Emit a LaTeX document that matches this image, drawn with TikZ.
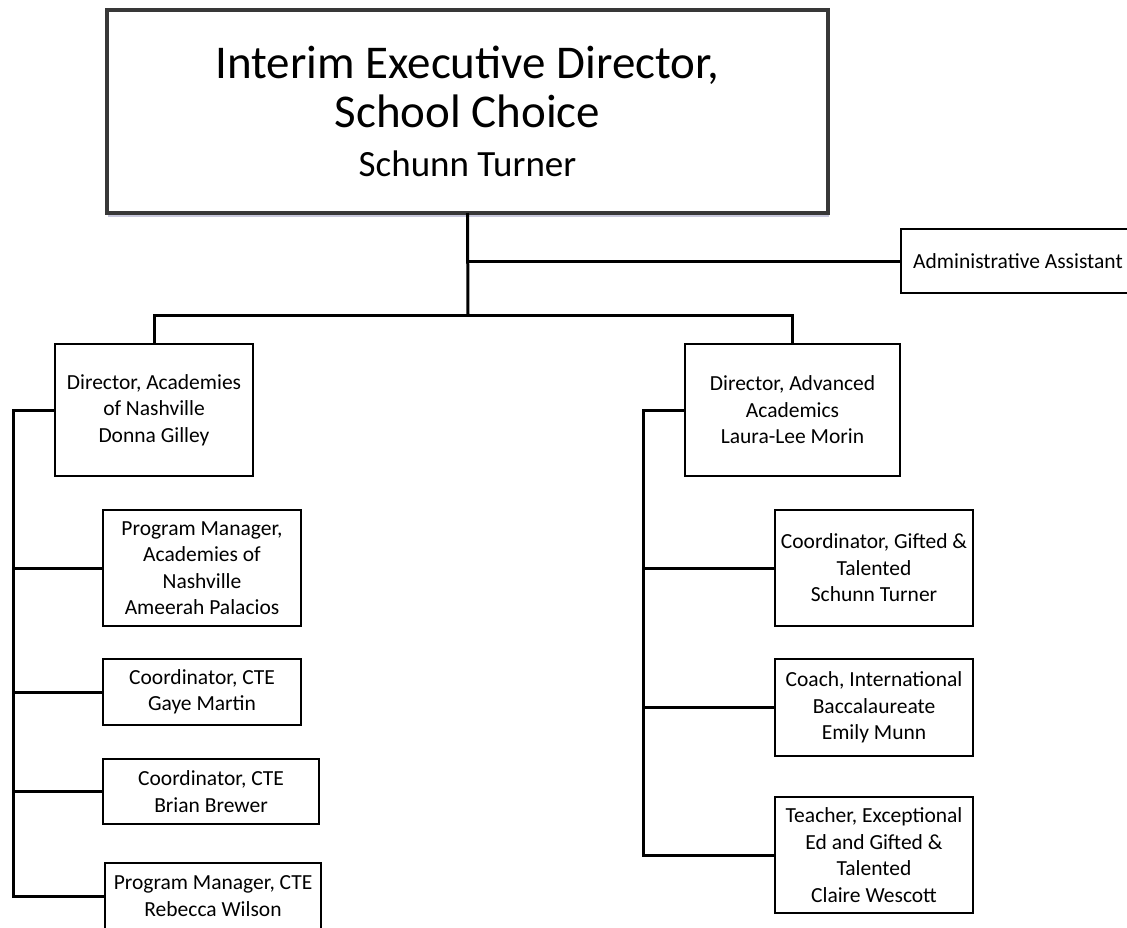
\documentclass[tikz,border=0pt]{standalone}
\usepackage{fontspec}
\setmainfont{Carlito}
\usetikzlibrary{shadows}

\tikzset{
  orgbox/.style={draw, rectangle, line width=2.4pt, align=center, inner sep=0pt,
    font=\fontsize{21.5}{26.5}\selectfont},
  headbox/.style={draw=black!78, rectangle, line width=4pt, align=center, inner sep=0pt,
    fill=white, drop shadow={shadow xshift=1pt, shadow yshift=-4pt, opacity=0.35, fill=blue!25!gray},
    font=\fontsize{47}{49}\selectfont},
  orgline/.style={line width=3pt, line cap=rect}
}

\begin{document}
\begin{tikzpicture}[x=1pt, y=-1pt]
  \useasboundingbox (0,0) rectangle (1127,927);

  % head of the unit
  \node[headbox, minimum width=721, minimum height=203] (head) at (467.5,111)
    {Interim Executive Director,\\School Choice\\{\fontsize{37}{49}\selectfont Schunn Turner}};
  \node[orgbox, minimum width=234, minimum height=64] (admin) at (1018,261) {Administrative Assistant};

  % directors
  \node[orgbox, minimum width=198, minimum height=132] (dirAcad) at (154,410)
    {Director, Academies\\of Nashville\\Donna Gilley};
  \node[orgbox, minimum width=215, minimum height=132] (dirAdv) at (792.5,410)
    {Director, Advanced\\Academics\\Laura-Lee Morin};

  % academies of nashville
  \node[orgbox, minimum width=198, minimum height=116] (pmAcad) at (202,568)
    {Program Manager,\\Academies of\\Nashville\\Ameerah Palacios};
  \node[orgbox, minimum width=198, minimum height=66] (cteGaye) at (202,692)
    {Coordinator, CTE\\Gaye Martin};
  \node[orgbox, minimum width=216, minimum height=65] (cteBrian) at (211,791.5)
    {Coordinator, CTE\\Brian Brewer};
  \node[orgbox, minimum width=216, minimum height=66] (pmCte) at (213,896)
    {Program Manager, CTE\\Rebecca Wilson};

  % advanced academics
  \node[orgbox, minimum width=198, minimum height=116] (gifted) at (874,568)
    {Coordinator, Gifted \&\\Talented\\Schunn Turner};
  \node[orgbox, minimum width=198, minimum height=97] (coachIB) at (874,707.5)
    {Coach, International\\Baccalaureate\\Emily Munn};
  \node[orgbox, minimum width=198, minimum height=116] (teacher) at (874,855)
    {Teacher, Exceptional\\Ed and Gifted \&\\Talented\\Claire Wescott};

  \coordinate (hub) at (468,315);
  \coordinate (spineL) at (13,410);
  \coordinate (spineR) at (643,410);

  \draw[orgline] (head.south) -- (hub);
  \draw[orgline] (head.south |- admin.west) -- (admin.west);
  \draw[orgline] (dirAcad.north) |- (hub) -| (dirAdv.north);

  \draw[orgline] (dirAcad.west) -- (spineL) |- (pmCte.west);
  \foreach \n in {pmAcad, cteGaye, cteBrian}
    \draw[orgline] (spineL |- \n.west) -- (\n.west);

  \draw[orgline] (dirAdv.west) -- (spineR) |- (teacher.west);
  \foreach \n in {gifted, coachIB}
    \draw[orgline] (spineR |- \n.west) -- (\n.west);
\end{tikzpicture}
\end{document}
